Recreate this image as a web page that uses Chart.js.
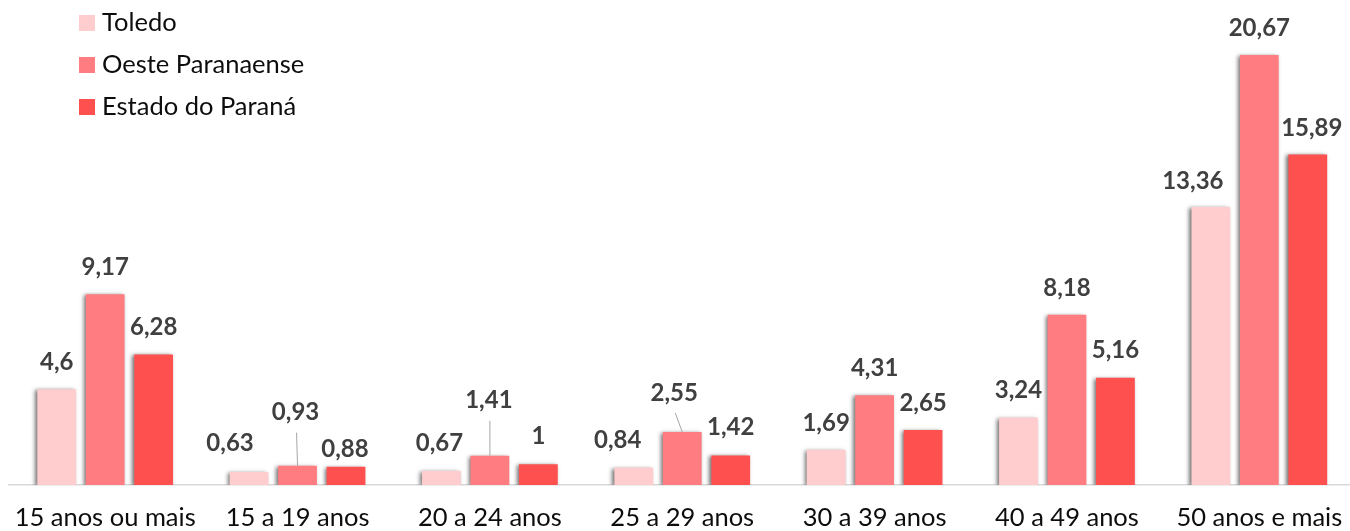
<!DOCTYPE html>
<html lang="pt-BR">
<head>
<meta charset="utf-8">
<title>Taxa de analfabetismo por faixa etária</title>
<script src="https://cdn.jsdelivr.net/npm/chart.js@4/dist/chart.umd.min.js"></script>
<style>
  html, body { margin: 0; padding: 0; background: #ffffff; overflow: hidden; }
  #wrap { position: absolute; left: 0; top: 0; width: 1365px; height: 531px; }
</style>
</head>
<body>
<div id="wrap"><canvas id="chart"></canvas></div>
<script>
// Age groups on the x axis
const categories = ['15 anos ou mais', '15 a 19 anos', '20 a 24 anos', '25 a 29 anos',
                    '30 a 39 anos', '40 a 49 anos', '50 anos e mais'];
// Series names
const seriesNames = ['Toledo', 'Oeste Paranaense', 'Estado do Paraná'];
// Rates (%) per age group
const toledo = [4.6, 0.63, 0.67, 0.84, 1.69, 3.24, 13.36];
const oeste  = [9.17, 0.93, 1.41, 2.55, 4.31, 8.18, 20.67];
const parana = [6.28, 0.88, 1, 1.42, 2.65, 5.16, 15.89];

const seriesColors = ['#FFCDCE', '#FF7C80', '#FF5050'];

// Hand-placed value labels: [series, category] -> horizontal shift, height above bar, leader line
const DEFAULT_LIFT = 27;
const labelNudge = {
  '0:1': { dx: -19, lift: 29 },
  '1:1': { dx: -2, lift: 53, leader: true },
  '2:1': { dx: -1, lift: 17 },
  '0:2': { dx: -2, lift: 28 },
  '1:2': { dx: -1, lift: 55, leader: true },
  '2:2': { dx: 0, lift: 28 },
  '0:3': { dx: -16, lift: 27 },
  '1:3': { dx: -8, lift: 39, leader: true },
  '2:3': { dx: 0, lift: 28 },
  '0:6': { dx: -18, lift: 26 },
  '2:6': { dx: 4, lift: 26 }
};

const fmt = v => String(v).replace('.', ',');

// Soft drop shadow behind the bars, then the value labels on top
const barDecor = {
  id: 'barDecor',
  beforeDatasetsDraw(chart) {
    const ctx = chart.ctx;
    ctx.save();
    ctx.shadowColor = 'rgba(0,0,0,0.55)';
    ctx.shadowBlur = 4;
    ctx.shadowOffsetX = -2;
    ctx.shadowOffsetY = 1;
  },
  afterDatasetsDraw(chart) {
    const ctx = chart.ctx;
    ctx.restore();
    ctx.save();
    ctx.font = 'bold 24px Lato';
    ctx.fillStyle = '#404040';
    ctx.textAlign = 'center';
    ctx.textBaseline = 'middle';
    chart.data.datasets.forEach((ds, i) => {
      const meta = chart.getDatasetMeta(i);
      meta.data.forEach((el, j) => {
        const n = labelNudge[i + ':' + j] || { dx: 0, lift: DEFAULT_LIFT };
        const lx = el.x + n.dx;
        const ly = el.y - n.lift;
        if (n.leader) {
          ctx.strokeStyle = '#a6a6a6';
          ctx.lineWidth = 1;
          ctx.beginPath();
          ctx.moveTo(lx + 1, ly + 20);
          ctx.lineTo(el.x, el.y);
          ctx.stroke();
        }
        ctx.fillText(fmt(ds.data[j]), lx, ly);
      });
    });
    ctx.restore();
  },
  afterDraw(chart) {
    // Legend stacked in the upper-left corner
    const ctx = chart.ctx;
    ctx.save();
    ctx.font = '25.5px Lato';
    ctx.textAlign = 'left';
    ctx.textBaseline = 'middle';
    chart.data.datasets.forEach((ds, i) => {
      const cy = 23 + i * 42;
      ctx.fillStyle = ds.backgroundColor;
      ctx.fillRect(79, cy - 8, 16, 16);
      ctx.fillStyle = '#0d0d0d';
      ctx.fillText(ds.label, 102, cy);
    });
    ctx.restore();
  }
};

const seriesValues = [toledo, oeste, parana];

new Chart(document.getElementById('chart'), {
  type: 'bar',
  data: {
    labels: categories,
    datasets: seriesValues.map((vals, i) => ({
      label: seriesNames[i],
      data: vals,
      backgroundColor: seriesColors[i],
      borderWidth: 0,
      categoryPercentage: 0.756,
      barPercentage: 0.80
    }))
  },
  options: {
    responsive: true,
    maintainAspectRatio: false,
    animation: false,
    layout: { padding: { left: 9, right: 9.5, top: 27.4, bottom: 0 } },
    plugins: { legend: { display: false }, tooltip: { enabled: false } },
    scales: {
      x: {
        grid: { display: true, color: 'rgba(0,0,0,0)', drawTicks: false },
        border: { display: true, color: '#d9d9d9', width: 1.5 },
        ticks: {
          color: '#0d0d0d',
          font: { family: 'Lato', size: 25.5 },
          padding: 17,
          autoSkip: false,
          maxRotation: 0
        },
        afterFit(scale) {
          scale.height = 46;
          scale.paddingLeft = 0;
          scale.paddingRight = 0;
        }
      },
      y: {
        display: false,
        min: 0,
        max: 22
      }
    }
  },
  plugins: [barDecor]
});
</script>
</body>
</html>
